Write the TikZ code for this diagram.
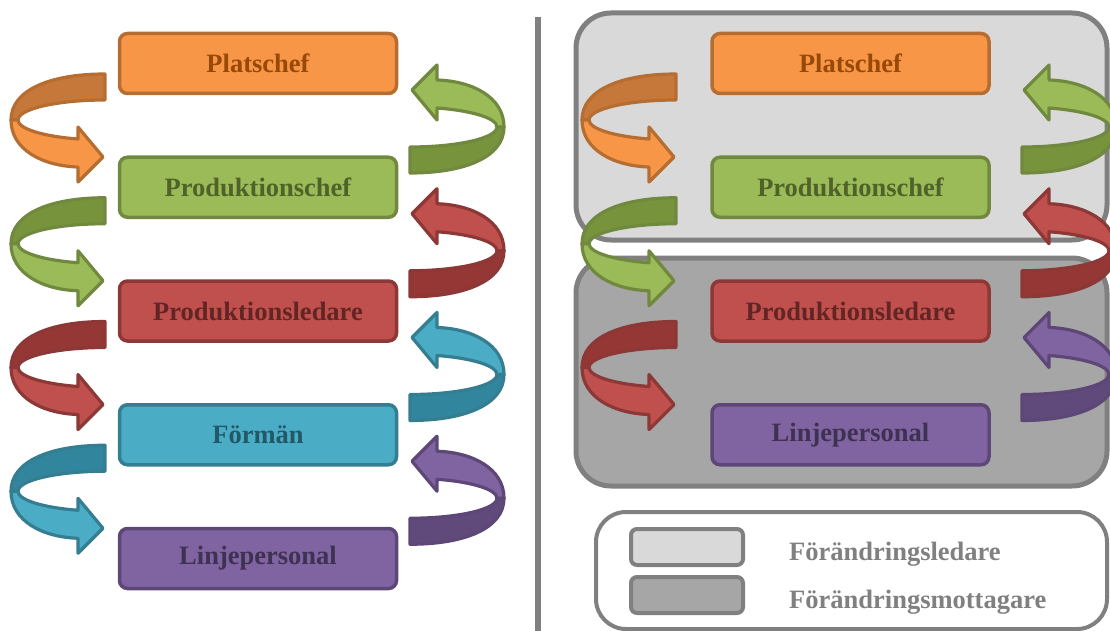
\documentclass[tikz,border=0pt]{standalone}
\usepackage{fontspec}
\setmainfont{Liberation Serif}
\usetikzlibrary{calc}

% colours
\definecolor{orangelight}{HTML}{F79646}
\definecolor{orangedark}{HTML}{C6773A}
\definecolor{orangeline}{HTML}{B66D31}
\definecolor{orangetext}{HTML}{984807}
\definecolor{greenlight}{HTML}{9BBB59}
\definecolor{greendark}{HTML}{77933C}
\definecolor{greenline}{HTML}{71893F}
\definecolor{greentext}{HTML}{4F6228}
\definecolor{redlight}{HTML}{C0504D}
\definecolor{reddark}{HTML}{953735}
\definecolor{redline}{HTML}{8C3836}
\definecolor{redtext}{HTML}{632523}
\definecolor{bluelight}{HTML}{4BACC6}
\definecolor{bluedark}{HTML}{31859C}
\definecolor{blueline}{HTML}{357D91}
\definecolor{bluetext}{HTML}{215968}
\definecolor{purplelight}{HTML}{8064A2}
\definecolor{purpledark}{HTML}{604A7B}
\definecolor{purpleline}{HTML}{5C4776}
\definecolor{purpletext}{HTML}{3F3151}
\definecolor{greylight}{HTML}{D9D9D9}
\definecolor{greydark}{HTML}{A6A6A6}
\definecolor{greyline}{HTML}{808080}

\tikzset{
  box/.style={rounded corners=8pt, minimum width=277pt, minimum height=60pt,
    line width=3.5pt, inner sep=0pt,
    font=\bfseries\fontsize{26.5}{30}\selectfont},
  colbox/.style={box, fill=#1light, draw=#1line, text=#1text},
  ring/.style={line width=3.2pt, line join=round},
  group/.style={draw=greyline, line width=5pt, rounded corners=35pt},
  swatch/.style={draw=greyline, line width=4pt, rounded corners=6pt,
    minimum width=112pt, minimum height=36pt},
  legtext/.style={text=greyline, inner sep=0pt, anchor=west,
    font=\bfseries\fontsize{26.5}{30}\selectfont}
}

% ring arrow: position, rotation, colour
\newcommand{\ringarrow}[3]{%
  \begin{scope}[shift={#1},rotate=#2]
    \filldraw[ring,fill=#3dark,draw=#3line]
      (0,-46) .. controls (-55,-46) and (-94,-30) .. (-94,0)
      -- (-87,0) arc[start angle=180,end angle=270,x radius=87,y radius=20] -- cycle;
    \filldraw[ring,fill=#3light,draw=#3line]
      (-94,0) .. controls (-94,30) and (-62,46) .. (-27,47)
      -- (-27,62) -- (-2,37) -- (-27,7) -- (-27,19)
      arc[start angle=108.1,end angle=180,x radius=87,y radius=20] -- cycle;
  \end{scope}}

\begin{document}
\begin{tikzpicture}[x=1pt,y=-1pt]
  \useasboundingbox (0,0) rectangle (1110,631);
  \clip (0,0) rectangle (1110,631);

  % right side groups
  \draw[group,fill=greylight] (576,13) rectangle (1107,240);
  \draw[group,fill=greydark] (576,258) rectangle (1107,486);

  % divider
  \draw[greyline,line width=6pt] (537.5,17) -- (537.5,640);

  % left column
  \node[colbox=orange] (pchef) at (258,63.5) {Platschef};
  \node[colbox=green] (prodchef) at (258,187.25) {Produktionschef};
  \node[colbox=red] (prodled) at (258,311) {Produktionsledare};
  \node[colbox=blue] (forman) at (258,434.75) {Förmän};
  \node[colbox=purple] (linje) at (258,558.5) {Linjepersonal};

  % right column
  \node[colbox=orange] (rpchef) at (850.5,63.5) {Platschef};
  \node[colbox=green] (rprodchef) at (850.5,187.25) {Produktionschef};
  \node[colbox=red] (rprodled) at (850.5,311) {Produktionsledare};
  \node[colbox=purple] (rlinje) at (850.5,434.75) {Linjepersonal};

  % arrows down (left) and up (right)
  \foreach \c [count=\i from 0] in {orange,green,red,blue}
    \ringarrow{(105,120+123.75*\i)}{0}{\c};
  \foreach \c [count=\i from 0] in {green,red,blue,purple}
    \ringarrow{(410,127+123.75*\i)}{180}{\c};
  \foreach \c [count=\i from 0] in {orange,green,red}
    \ringarrow{(676,120+123.75*\i)}{0}{\c};
  \foreach \c [count=\i from 0] in {green,red,purple}
    \ringarrow{(1022,127+123.75*\i)}{180}{\c};

  % legend
  \draw[draw=greyline,line width=4pt,rounded corners=30pt,fill=white]
    (596,512) rectangle (1107,629);
  \node[swatch,fill=greylight] (lsw) at (687,547) {};
  \node[swatch,fill=greydark] (msw) at (687,595) {};
  \node[legtext] (ltxt) at (789,554) {Förändringsledare};
  \node[legtext] (mtxt) at (789,602) {Förändringsmottagare};
\end{tikzpicture}
\end{document}
